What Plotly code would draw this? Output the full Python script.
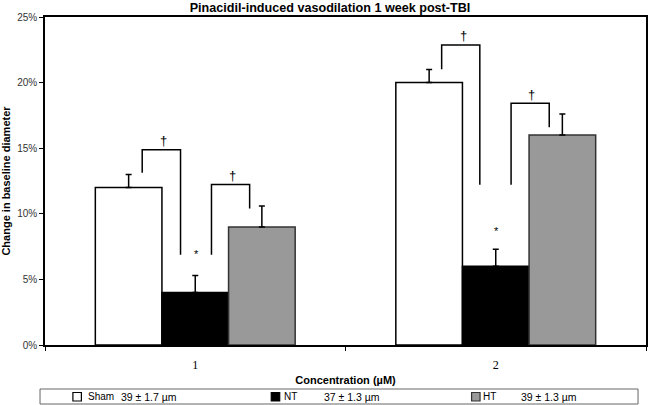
import plotly.graph_objects as go

# ---------------- data ----------------
concentrations = [1, 2]
group_names = ["Sham", "NT", "HT"]
group_sizes = ["39 ± 1.7 µm", "37 ± 1.3 µm", "39 ± 1.3 µm"]
sham_vals = [12.0, 20.0]
nt_vals = [4.0, 6.0]
ht_vals = [9.0, 16.0]
sham_err = [1.0, 1.0]
nt_err = [1.3, 1.3]
ht_err = [1.6, 1.6]

# significance brackets (x in category units, y in %)
bracket_x = [
    [0.8235, 0.8235, 0.951, 0.951],
    [1.054, 1.054, 1.181, 1.181],
    [1.820, 1.820, 1.947, 1.947],
    [2.051, 2.051, 2.178, 2.178],
]
bracket_y = [
    [13.13, 14.89, 14.89, 6.88],
    [6.88, 12.23, 12.23, 10.4],
    [21.02, 22.86, 22.86, 12.21],
    [12.21, 18.43, 18.43, 16.59],
]
dagger_x = [0.893, 1.1225, 1.891, 2.119]
dagger_y = [15.6, 12.94, 23.57, 19.11]
star_x = [1.003, 2.001]
star_y = [6.96, 8.72]

y_ticks = [0, 5, 10, 15, 20, 25]

# ---------------- styles ----------------
fills = ["#ffffff", "#000000", "#999999"]
outlines = ["#000000", "#000000", "#333333"]
FONT = "Arial, Liberation Sans, sans-serif"
W, H = 650, 405
ML, MR, MT, MB = 45, 2, 17, 60
PW, PH = W - ML - MR, H - MT - MB


def px_x(px):
    return (px - ML) / PW


def px_y(py):
    return (H - MB - py) / PH


fig = go.Figure()
for vals, errs, name, fc, lc in zip([sham_vals, nt_vals, ht_vals],
                                    [sham_err, nt_err, ht_err],
                                    group_names, fills, outlines):
    fig.add_trace(go.Bar(
        x=concentrations, y=vals, name=name, showlegend=False,
        marker=dict(color=fc, line=dict(color=lc, width=1.5)),
        error_y=dict(type="data", array=errs, arrayminus=[0] * len(errs),
                     symmetric=False, color="#000000", thickness=1.5, width=3),
    ))

for bx, by in zip(bracket_x, bracket_y):
    fig.add_trace(go.Scatter(x=bx, y=by, mode="lines",
                             line=dict(color="#000000", width=1.5),
                             showlegend=False, hoverinfo="skip"))

for dx, dy in zip(dagger_x, dagger_y):
    fig.add_annotation(x=dx, y=dy, text="†", showarrow=False,
                       font=dict(family="Liberation Sans", size=13, color="#000000"),
                       xanchor="center", yanchor="middle")
for sx, sy in zip(star_x, star_y):
    fig.add_annotation(x=sx, y=sy, text="*", showarrow=False,
                       font=dict(family="Liberation Sans", size=11, color="#000000"),
                       xanchor="center", yanchor="middle")

# ---------------- manual legend box ----------------
fig.add_shape(type="rect", xref="paper", yref="paper",
              x0=px_x(40), x1=px_x(640), y0=px_y(404), y1=px_y(389),
              line=dict(color="#666666", width=1), fillcolor="white")
sq_left = [73, 272, 473]
name_left = [86, 283, 482]
size_left = [119, 323, 521]
for i in range(3):
    fig.add_shape(type="rect", xref="paper", yref="paper",
                  x0=px_x(sq_left[i]), x1=px_x(sq_left[i] + 8.5),
                  y0=px_y(401), y1=px_y(392.5),
                  line=dict(color=outlines[i], width=1.2), fillcolor=fills[i])
    fig.add_annotation(xref="paper", yref="paper", x=px_x(name_left[i]), y=px_y(396.7),
                       text=group_names[i], showarrow=False, xanchor="left",
                       yanchor="middle",
                       font=dict(family=FONT, size=10, color="#000000"))
    fig.add_annotation(xref="paper", yref="paper", x=px_x(size_left[i]), y=px_y(396.7),
                       text=group_sizes[i], showarrow=False, xanchor="left",
                       yanchor="middle",
                       font=dict(family=FONT, size=10.5, color="#000000"))

fig.update_layout(
    width=W, height=H,
    margin=dict(l=ML, r=MR, t=MT, b=MB),
    paper_bgcolor="white", plot_bgcolor="white",
    barmode="group", bargap=0.335, bargroupgap=0,
    title=dict(text="<b>Pinacidil-induced vasodilation 1 week post-TBI</b>",
               x=330 / W, xref="container", xanchor="center",
               y=1 - 7.5 / H, yref="container", yanchor="middle",
               font=dict(family=FONT, size=12.6, color="#000000")),
    showlegend=False,
    font=dict(family=FONT),
)

fig.update_xaxes(
    range=[0.5, 2.5], tickmode="array", tickvals=concentrations,
    ticktext=[str(c) for c in concentrations],
    ticks="", showgrid=False, zeroline=False,
    showline=True, linecolor="#000000", linewidth=1.5, mirror=True,
    tickfont=dict(family="Times New Roman, Liberation Serif, serif", size=12, color="#000000"),
    ticklabelstandoff=8,
    minor=dict(tickmode="array", tickvals=[0.5, 1.5, 2.5], ticks="outside",
               ticklen=4, tickcolor="#000000", tickwidth=1),
    title=dict(text="<b>Concentration (µM)</b>", standoff=5,
               font=dict(family=FONT, size=11, color="#000000")),
)
fig.update_yaxes(
    range=[0, 25], tickmode="array", tickvals=y_ticks,
    ticktext=[f"{v}%" for v in y_ticks],
    ticks="outside", ticklen=4, tickcolor="#000000",
    showgrid=False, zeroline=False,
    showline=True, linecolor="#000000", linewidth=1.5, mirror=True,
    tickfont=dict(family=FONT, size=10, color="#333333"),
    title=dict(text="<b>Change in baseline diameter</b>", standoff=6,
               font=dict(family=FONT, size=11, color="#000000")),
)

fig.write_html(
    "out.html",
    config={"displayModeBar": False},
    post_script="document.body.style.margin='0px';document.body.style.overflow='hidden';",
)
